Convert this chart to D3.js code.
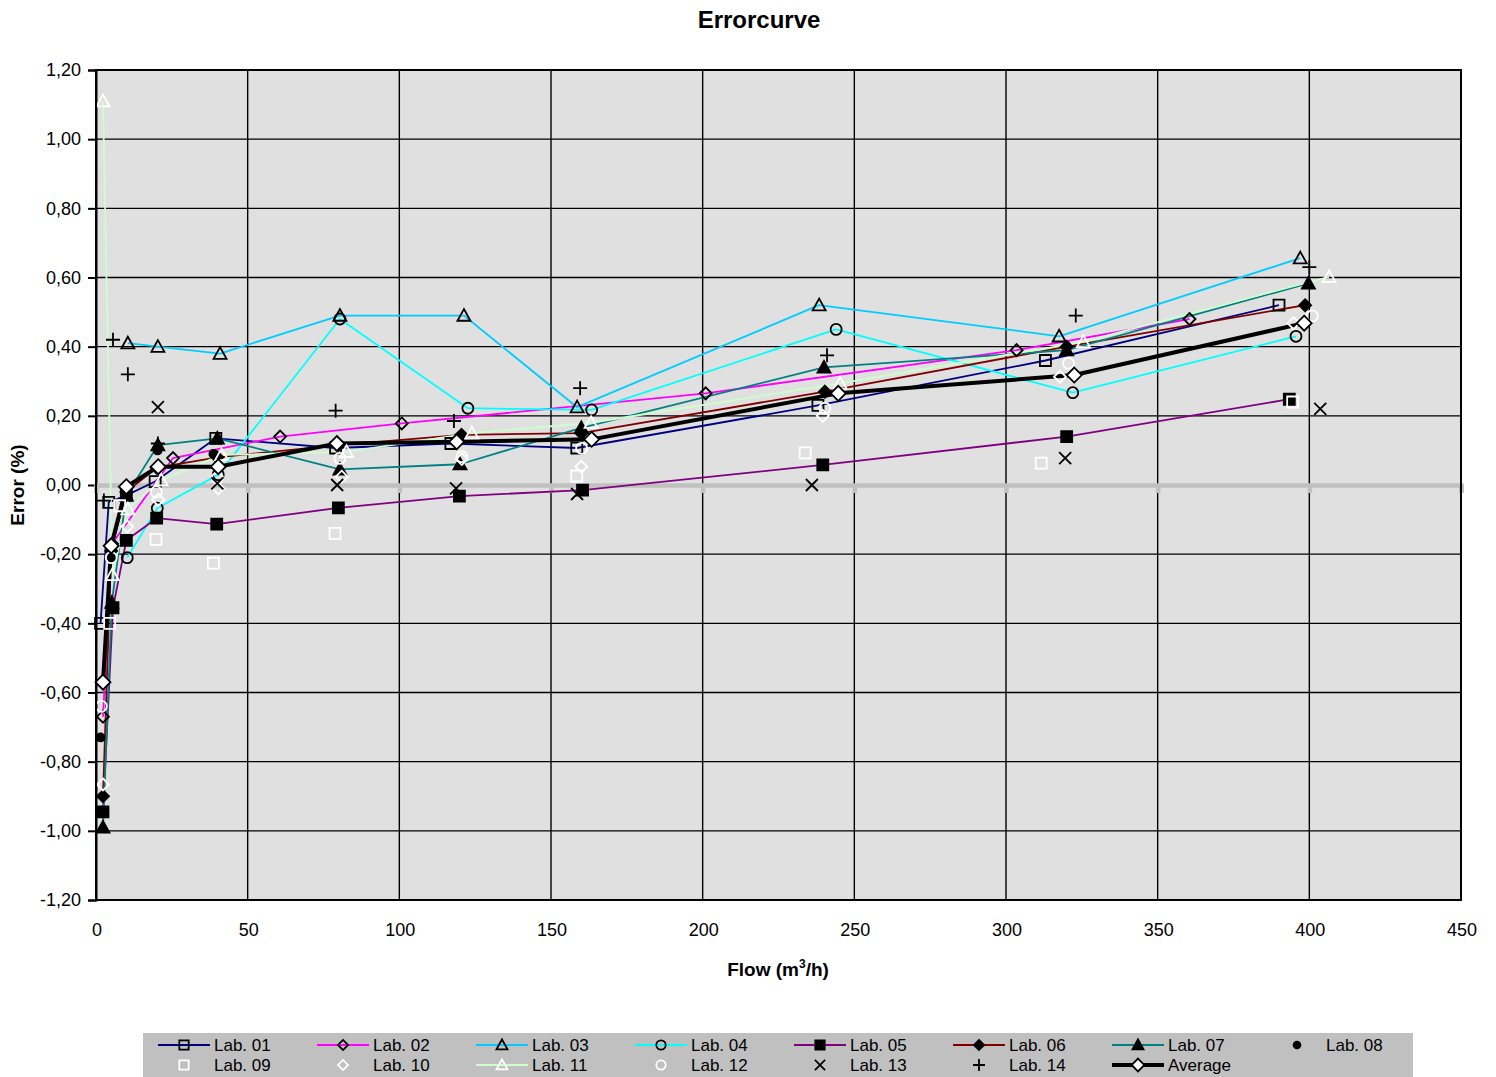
<!DOCTYPE html>
<html><head><meta charset="utf-8">
<script src="https://cdn.jsdelivr.net/npm/d3@7"></script>
<style>body{margin:0;background:#fff}svg{display:block;font-family:Arial,"Liberation Sans",sans-serif}</style>
</head><body>
<svg id="chart" width="1496" height="1077"></svg>
<script>
// ---------- data ----------
const xTicks = [0, 50, 100, 150, 200, 250, 300, 350, 400, 450];
const yTicks = [-1.2, -1.0, -0.8, -0.6, -0.4, -0.2, 0, 0.2, 0.4, 0.6, 0.8, 1.0, 1.2];

const lab01Flow = [1.5, 4.2, 10, 19.5, 39.5, 79, 117, 158.5, 238, 313, 390];
const lab01Err  = [-0.40, -0.05, -0.03, 0.01, 0.135, 0.107, 0.12, 0.107, 0.23, 0.36, 0.52];
const lab02Flow = [2.3, 5.3, 25.4, 60.7, 100.8, 201, 303.5, 360.5];
const lab02Err  = [-0.67, -0.17, 0.078, 0.14, 0.178, 0.265, 0.39, 0.48];
const lab03Flow = [10.5, 20.4, 40.9, 80.4, 121.3, 158.6, 238.4, 317.5, 397];
const lab03Err  = [0.41, 0.40, 0.38, 0.49, 0.49, 0.225, 0.52, 0.43, 0.656];
const lab04Flow = [10.3, 20.2, 40.3, 80.4, 122.6, 163.4, 244, 322, 395.6];
const lab04Err  = [-0.21, -0.067, 0.03, 0.48, 0.222, 0.217, 0.45, 0.267, 0.43];
const lab05Flow = [2.3, 5.6, 10, 20, 39.8, 79.9, 119.8, 160.4, 239.6, 320, 393.4];
const lab05Err  = [-0.945, -0.355, -0.16, -0.096, -0.113, -0.066, -0.032, -0.015, 0.058, 0.14, 0.248];
const lab06Flow = [2.3, 5, 10, 20, 40, 79.9, 120.5, 160, 240.3, 320, 398.6];
const lab06Err  = [-0.90, -0.19, -0.02, 0.05, 0.08, 0.115, 0.145, 0.15, 0.27, 0.40, 0.52];
const lab07Flow = [2.3, 5.2, 10, 20.4, 40, 80.4, 120, 160, 240, 320, 399.7];
const lab07Err  = [-0.99, -0.34, -0.03, 0.115, 0.135, 0.045, 0.06, 0.165, 0.34, 0.39, 0.583];
const lab08Flow = [1.5, 5.2, 20.3, 38.7];
const lab08Err  = [-0.73, -0.21, 0.10, 0.09];
const lab09Flow = [4.5, 7.8, 19.8, 38.7, 78.8, 158.5, 233.8, 311.6, 394.5];
const lab09Err  = [-0.40, -0.06, -0.157, -0.226, -0.14, 0.026, 0.093, 0.063, 0.24];
const lab10Flow = [2.3, 10.3, 20.5, 40.3, 81, 120.6, 160, 239.6, 317.8, 394.8];
const lab10Err  = [-0.866, -0.12, -0.043, -0.01, 0.024, 0.075, 0.053, 0.2, 0.313, 0.468];
const lab11Flow = [2.3, 5.4, 10.5, 21.5, 41.4, 82.6, 123.9, 163.2, 245.3, 325.5, 406.5];
const lab11Err  = [1.11, -0.26, -0.07, 0.014, 0.087, 0.096, 0.15, 0.18, 0.294, 0.414, 0.602];
const lab12Flow = [1.75, 5, 19.9, 40, 80.4, 120.6, 160.1, 240.3, 320.6, 401];
const lab12Err  = [-0.64, -0.21, -0.02, 0.02, 0.077, 0.082, 0.106, 0.222, 0.352, 0.489];
const lab13Flow = [20.4, 40, 79.5, 118.7, 158.6, 236, 319.5, 403.6];
const lab13Err  = [0.225, 0.005, 0.0, -0.01, -0.026, 0.0, 0.078, 0.22];
const lab14Flow = [2.6, 5.6, 10.5, 20.4, 79, 118, 159.6, 241, 323, 400];
const lab14Err  = [-0.045, 0.42, 0.32, 0.12, 0.215, 0.185, 0.28, 0.375, 0.49, 0.63];
const avgFlow   = [2.3, 5, 10, 20.5, 40.3, 79.4, 118.9, 163.4, 244.7, 322.5, 398.3];
const avgErr    = [-0.57, -0.176, -0.005, 0.053, 0.053, 0.12, 0.125, 0.132, 0.265, 0.318, 0.468];

const seriesNames = ["Lab. 01","Lab. 02","Lab. 03","Lab. 04","Lab. 05","Lab. 06","Lab. 07","Lab. 08",
                     "Lab. 09","Lab. 10","Lab. 11","Lab. 12","Lab. 13","Lab. 14","Average"];

// ---------- styles ----------
const series = [
  {flow: lab01Flow, err: lab01Err, line: "#000080", lw: 1.8, m: "square",   mFill: "none",  mStroke: "#000", r: 5.5},
  {flow: lab02Flow, err: lab02Err, line: "#ff00ff", lw: 1.8, m: "diamond",  mFill: "none",  mStroke: "#000", r: 6},
  {flow: lab03Flow, err: lab03Err, line: "#00ccff", lw: 1.8, m: "triangle", mFill: "none",  mStroke: "#000", r: 6.5},
  {flow: lab04Flow, err: lab04Err, line: "#00ffff", lw: 1.8, m: "circle",   mFill: "none",  mStroke: "#000", r: 5.5},
  {flow: lab05Flow, err: lab05Err, line: "#800080", lw: 1.8, m: "square",   mFill: "#000",  mStroke: "#000", r: 5.5},
  {flow: lab06Flow, err: lab06Err, line: "#800000", lw: 1.8, m: "diamond",  mFill: "#000",  mStroke: "#000", r: 6},
  {flow: lab07Flow, err: lab07Err, line: "#008080", lw: 1.8, m: "triangle", mFill: "#000",  mStroke: "#000", r: 6.5},
  {flow: lab08Flow, err: lab08Err, line: null,      lw: 0,   m: "circle",   mFill: "#000",  mStroke: "#000", r: 4},
  {flow: lab09Flow, err: lab09Err, line: null,      lw: 0,   m: "square",   mFill: "none",  mStroke: "#fff", r: 5.5},
  {flow: lab10Flow, err: lab10Err, line: null,      lw: 0,   m: "diamond",  mFill: "none",  mStroke: "#fff", r: 6},
  {flow: lab11Flow, err: lab11Err, line: "#ccffcc", lw: 1.8, m: "triangle", mFill: "none",  mStroke: "#fff", r: 6.5},
  {flow: lab12Flow, err: lab12Err, line: null,      lw: 0,   m: "circle",   mFill: "none",  mStroke: "#fff", r: 5.5},
  {flow: lab13Flow, err: lab13Err, line: null,      lw: 0,   m: "x",        mFill: "none",  mStroke: "#000", r: 6},
  {flow: lab14Flow, err: lab14Err, line: null,      lw: 0,   m: "plus",     mFill: "none",  mStroke: "#000", r: 7},
  {flow: avgFlow,   err: avgErr,   line: "#000000", lw: 4,   m: "diamond",  mFill: "#fff",  mStroke: "#000", r: 7.5}
];

function markerPath(type, r) {
  switch (type) {
    case "square":   return `M${-r},${-r}H${r}V${r}H${-r}Z`;
    case "diamond":  return `M0,${-r}L${r},0L0,${r}L${-r},0Z`;
    case "triangle": return `M0,${-r}L${r},${r*0.8}L${-r},${r*0.8}Z`;
    case "circle":   return `M${r},0A${r},${r} 0 1,1 ${-r},0A${r},${r} 0 1,1 ${r},0Z`;
    case "x":        return `M${-r},${-r}L${r},${r}M${r},${-r}L${-r},${r}`;
    case "plus":     return `M${-r},0H${r}M0,${-r}V${r}`;
  }
}

// ---------- layout ----------
const svg = d3.select("#chart");
const x = d3.scaleLinear().domain([0, 450]).range([96, 1461]);
const y = d3.scaleLinear().domain([-1.2, 1.2]).range([900, 70]);
const fmtY = v => d3.format(".2f")(v).replace(".", ",").replace("−", "-");

// plot background
svg.append("rect").attr("x", x(0)).attr("y", y(1.2)).attr("width", x(450) - x(0)).attr("height", y(-1.2) - y(1.2))
  .attr("fill", "#e0e0e0");

// grid lines
svg.append("g").selectAll("line").data(yTicks).join("line")
  .attr("x1", x(0)).attr("x2", x(450)).attr("y1", d => y(d)).attr("y2", d => y(d))
  .attr("stroke", "#000").attr("stroke-width", 1.4);
svg.append("g").selectAll("line").data(xTicks).join("line")
  .attr("x1", d => x(d)).attr("x2", d => x(d)).attr("y1", y(1.2)).attr("y2", y(-1.2))
  .attr("stroke", "#000").attr("stroke-width", 1.4);

// left axis
const yAxis = d3.axisLeft(y).tickValues(yTicks).tickFormat(fmtY).tickSize(8).tickPadding(7);
const gy = svg.append("g").attr("transform", `translate(${x(0)},0)`).call(yAxis);
gy.select(".domain").attr("stroke", "#000").attr("stroke-width", 2);
gy.selectAll(".tick line").attr("stroke", "#000").attr("stroke-width", 2);
gy.selectAll("text").attr("font-size", 18).attr("fill", "#000").attr("font-family", "Arial, 'Liberation Sans', sans-serif");

// bottom tick labels (axis crosses at 0, labels at bottom)
svg.append("g").selectAll("text").data(xTicks).join("text")
  .attr("x", d => x(d) + 1).attr("y", 936).attr("text-anchor", "middle")
  .attr("font-size", 18).text(d => d);

// zero axis (grey) with ticks
const xAxis = d3.axisBottom(x).tickValues(xTicks).tickSize(8).tickFormat("");
const gx = svg.append("g").attr("transform", `translate(0,${y(0)})`).call(xAxis);
gx.select(".domain").attr("stroke", "#c0c0c0").attr("stroke-width", 4.5);
gx.selectAll(".tick line").attr("stroke", "#c0c0c0").attr("stroke-width", 4.5);

// series
const plot = svg.append("g");
series.forEach(s => {
  const pts = s.flow.map((f, i) => [f, s.err[i]]);
  if (s.line) {
    plot.append("path").datum(pts)
      .attr("d", d3.line().x(d => x(d[0])).y(d => y(d[1])))
      .attr("fill", "none").attr("stroke", s.line).attr("stroke-width", s.lw).attr("stroke-linejoin", "round");
  }
});
series.forEach(s => {
  const pts = s.flow.map((f, i) => [f, s.err[i]]);
  plot.append("g").selectAll("path").data(pts).join("path")
    .attr("transform", d => `translate(${x(d[0])},${y(d[1])})`)
    .attr("d", markerPath(s.m, s.r))
    .attr("fill", s.mFill).attr("stroke", s.mStroke).attr("stroke-width", 1.8);
});

// plot border
svg.append("rect").attr("x", x(0)).attr("y", y(1.2)).attr("width", x(450) - x(0)).attr("height", y(-1.2) - y(1.2))
  .attr("fill", "none").attr("stroke", "#000").attr("stroke-width", 2);

// titles
svg.append("text").attr("x", 759).attr("y", 28).attr("text-anchor", "middle")
  .attr("font-size", 24).attr("font-weight", "bold").text("Errorcurve");
const xt = svg.append("text").attr("x", 778).attr("y", 976).attr("text-anchor", "middle")
  .attr("font-size", 19).attr("font-weight", "bold");
xt.append("tspan").text("Flow (m");
xt.append("tspan").attr("font-size", 12).attr("dy", -8).text("3");
xt.append("tspan").attr("dy", 8).text("/h)");
svg.append("text").attr("transform", "translate(24,485) rotate(-90)").attr("text-anchor", "middle")
  .attr("font-size", 19).attr("font-weight", "bold").text("Error (%)");

// legend
svg.append("rect").attr("x", 143).attr("y", 1033).attr("width", 1270).attr("height", 60).attr("fill", "#c0c0c0");
const colX = [158, 317, 476, 635, 794, 953, 1112, 1271];
series.forEach((s, i) => {
  const row = i < 8 ? 0 : 1;
  const col = i < 8 ? i : i - 8;
  const lx = colX[col], ly = row === 0 ? 1045 : 1065;
  const g = svg.append("g");
  if (s.line) {
    g.append("line").attr("x1", lx).attr("x2", lx + 52).attr("y1", ly).attr("y2", ly)
      .attr("stroke", s.line).attr("stroke-width", s.lw);
  }
  g.append("path").attr("transform", `translate(${lx + 26},${ly})`)
    .attr("d", markerPath(s.m, s.r * 0.85))
    .attr("fill", s.mFill).attr("stroke", s.mStroke).attr("stroke-width", 1.8);
  g.append("text").attr("x", i === 7 ? lx + 55 : lx + 56).attr("y", ly + 6)
    .attr("font-size", 17).text(seriesNames[i]);
});
</script>
</body></html>
